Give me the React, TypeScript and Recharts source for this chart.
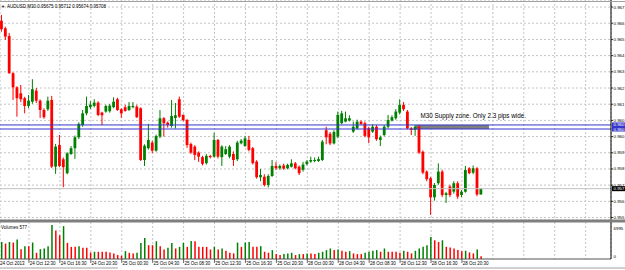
import React from 'react';
import {
  ComposedChart,
  Bar,
  Cell,
  XAxis,
  YAxis,
  CartesianGrid,
  ReferenceLine,
  ReferenceArea,
} from 'recharts';

// AUDUSD M30, 24 Oct 2013 09:00 .. 28 Oct 2013 23:00 (one entry per bar)
const symbol = 'AUDUSD,M30';

const opens = [
  0.96662, 0.96619, 0.96575, 0.96364, 0.96284, 0.9625, 0.96222, 0.96178, 0.96202, 0.96265,
  0.96208, 0.96155, 0.96159, 0.96212, 0.95833, 0.95956, 0.95875, 0.95796, 0.95905, 0.95938,
  0.96, 0.9607, 0.96136, 0.96171, 0.96178, 0.96197, 0.9614, 0.96146, 0.96148, 0.96171,
  0.96216, 0.96159, 0.96171, 0.96155, 0.96171, 0.96174, 0.96165, 0.95871, 0.95938, 0.9597,
  0.95924, 0.96004, 0.96108, 0.96083, 0.96064, 0.9611, 0.96216, 0.96127, 0.96098, 0.95962,
  0.95947, 0.95913, 0.95887, 0.95853, 0.95894, 0.9589, 0.95985, 0.95887, 0.95905, 0.9589,
  0.95905, 0.95875, 0.95966, 0.95951, 0.95985, 0.95938, 0.95862, 0.95773, 0.95776, 0.95729,
  0.9578, 0.95837, 0.95824, 0.9584, 0.95824, 0.95833, 0.95852, 0.95833, 0.95815, 0.95848,
  0.95862, 0.95865, 0.95865, 0.95871, 0.9604, 0.9602, 0.95965, 0.96004, 0.9608, 0.96089,
  0.96095, 0.96032, 0.9605, 0.96089, 0.9608, 0.96051, 0.96032, 0.9606, 0.95985, 0.96013,
  0.9606, 0.96095, 0.96108, 0.9614, 0.96184, 0.96146, 0.96051, 0.96042, 0.9606, 0.95918,
  0.95805, 0.95767, 0.95659, 0.95739, 0.95805, 0.95672, 0.9572, 0.95691, 0.95739, 0.95672,
  0.95691, 0.95824, 0.95799, 0.95824, 0.95675,
];
const highs = [
  0.96695, 0.96628, 0.96593, 0.9637, 0.9629, 0.96297, 0.9623, 0.9624, 0.9633, 0.9628,
  0.96215, 0.96165, 0.96231, 0.96235, 0.95962, 0.96013, 0.95885, 0.95915, 0.9595, 0.9601,
  0.96085, 0.96155, 0.96231, 0.96205, 0.96216, 0.96205, 0.96145, 0.96185, 0.9619, 0.96227,
  0.96225, 0.96165, 0.96185, 0.962, 0.962, 0.96185, 0.9617, 0.9596, 0.96076, 0.9598,
  0.96015, 0.96155, 0.96115, 0.9609, 0.96212, 0.96195, 0.96231, 0.9613, 0.96105, 0.9597,
  0.95955, 0.9592, 0.95895, 0.95905, 0.959, 0.96026, 0.9599, 0.95955, 0.9595, 0.95955,
  0.9592, 0.9598, 0.9599, 0.96008, 0.96008, 0.95945, 0.9587, 0.9582, 0.9579, 0.9579,
  0.95871, 0.9586, 0.95845, 0.9585, 0.9585, 0.95875, 0.9586, 0.9584, 0.9586, 0.9587,
  0.9589, 0.95885, 0.9589, 0.95985, 0.9606, 0.9603, 0.9604, 0.96146, 0.9615, 0.96146,
  0.96125, 0.96089, 0.961, 0.96095, 0.9609, 0.9606, 0.96075, 0.9607, 0.9601, 0.9607,
  0.96127, 0.96125, 0.9616, 0.96216, 0.962, 0.96155, 0.96058, 0.9607, 0.9607, 0.95925,
  0.95812, 0.95775, 0.9574, 0.95852, 0.95815, 0.9569, 0.9573, 0.9575, 0.9575, 0.957,
  0.95837, 0.9583, 0.9584, 0.9583, 0.95712,
];
const lows = [
  0.966, 0.96553, 0.9636, 0.96212, 0.96117, 0.962, 0.96136, 0.96165, 0.9619, 0.96195,
  0.9611, 0.96105, 0.9615, 0.95825, 0.95792, 0.9583, 0.95716, 0.9579, 0.959, 0.95877,
  0.9599, 0.9606, 0.96125, 0.9616, 0.9617, 0.9612, 0.9607, 0.9614, 0.9614, 0.96165,
  0.9615, 0.9611, 0.96145, 0.9615, 0.96165, 0.9611, 0.95865, 0.95837, 0.9593, 0.9591,
  0.95918, 0.95995, 0.96004, 0.96055, 0.96055, 0.9605, 0.9611, 0.9609, 0.9594, 0.95905,
  0.9587, 0.9586, 0.9584, 0.95845, 0.9588, 0.95885, 0.9588, 0.95837, 0.959, 0.9588,
  0.95837, 0.95865, 0.9596, 0.95945, 0.9592, 0.95845, 0.95765, 0.9575, 0.9572, 0.95715,
  0.95775, 0.95815, 0.95815, 0.95815, 0.95818, 0.95828, 0.95818, 0.95785, 0.95805, 0.9584,
  0.95855, 0.95858, 0.9586, 0.95865, 0.9596, 0.95955, 0.9596, 0.95995, 0.96075, 0.96085,
  0.9609, 0.96025, 0.96045, 0.9607, 0.96, 0.95966, 0.96025, 0.9598, 0.9595, 0.96005,
  0.9605, 0.9609, 0.961, 0.9613, 0.9615, 0.96045, 0.96013, 0.96008, 0.95905, 0.9579,
  0.9575, 0.95559, 0.9564, 0.9573, 0.9566, 0.95627, 0.9566, 0.9568, 0.9565, 0.9566,
  0.95685, 0.9579, 0.9579, 0.95665, 0.95674,
];
const closes = [
  0.96614, 0.96572, 0.96364, 0.96284, 0.96222, 0.96216, 0.96178, 0.96208, 0.96273, 0.96208,
  0.96155, 0.96114, 0.96208, 0.95833, 0.95947, 0.95837, 0.9583, 0.95909, 0.95938, 0.96,
  0.96076, 0.96136, 0.96178, 0.96185, 0.96197, 0.96127, 0.96125, 0.96178, 0.9618, 0.96202,
  0.96155, 0.96136, 0.9615, 0.96178, 0.96178, 0.96114, 0.95871, 0.95952, 0.95985, 0.95924,
  0.96007, 0.96108, 0.9608, 0.9607, 0.96121, 0.96125, 0.96117, 0.96098, 0.95956, 0.95913,
  0.959, 0.9589, 0.95849, 0.95894, 0.95887, 0.95985, 0.9589, 0.95947, 0.95932, 0.95947,
  0.95871, 0.9597, 0.95981, 0.95994, 0.95928, 0.95853, 0.95773, 0.95786, 0.95729, 0.9578,
  0.95837, 0.95824, 0.95837, 0.95822, 0.95843, 0.95852, 0.95824, 0.95796, 0.95845, 0.95862,
  0.95871, 0.95871, 0.95876, 0.95975, 0.96, 0.95965, 0.9603, 0.96127, 0.96136, 0.96108,
  0.96108, 0.9606, 0.96089, 0.96076, 0.96008, 0.96, 0.9606, 0.95989, 0.96, 0.9606,
  0.96098, 0.96114, 0.96146, 0.96184, 0.96159, 0.96051, 0.96042, 0.9606, 0.95913, 0.95799,
  0.95762, 0.95659, 0.95729, 0.95805, 0.95672, 0.95682, 0.95672, 0.95739, 0.95663, 0.95691,
  0.95814, 0.95796, 0.95824, 0.95675, 0.95708,
];
const volumes = [
  3500, 3180, 3500, 3380, 4000, 2030, 2640, 2600, 3380, 1280,
  2030, 2160, 2640, 6995, 5880, 4870, 6760, 3310, 2500, 2500,
  2640, 2300, 2300, 1350, 1490, 1490, 1490, 1490, 1350, 1150,
  810, 680, 1620, 1280, 1150, 1280, 3310, 4330, 2840, 2840,
  3650, 2640, 1960, 2300, 3310, 2160, 2500, 3310, 2500, 3720,
  3650, 2500, 2500, 2500, 1960, 2500, 1960, 2160, 1690, 1280,
  1150, 3380, 2500, 3380, 3500, 2500, 2500, 2640, 1490, 1280,
  1830, 1010, 810, 1010, 1150, 1280, 810, 1010, 1010, 1150,
  1150, 1010, 1280, 1490, 1830, 2160, 1830, 1960, 1690, 1490,
  1620, 1150, 1010, 1010, 1280, 1490, 1690, 1830, 1490, 2160,
  1490, 1490, 1490, 1280, 1690, 1490, 1150, 1690, 2160, 2500,
  2840, 4530, 3850, 3500, 3850, 2500, 2370, 2160, 1830, 1620,
  1690, 1350, 1150, 1960, 577,
];

const priceTicks = [
  0.9674, 0.96648, 0.96556, 0.96464, 0.96372, 0.9628, 0.96188,
  0.96096, 0.96004, 0.95912, 0.9582, 0.95728, 0.95636, 0.95544,
];
const volumeTicks = [6995, 0];

const timeTickBars = [0, 7, 15, 23, 31, 39, 47, 55, 63, 71, 79, 87, 95, 103, 111, 119];
const timeTickLabels = [
  '24 Oct 2013', '24 Oct 12:30', '24 Oct 16:30', '24 Oct 20:30',
  '25 Oct 00:30', '25 Oct 04:30', '25 Oct 08:30', '25 Oct 12:30',
  '25 Oct 16:30', '25 Oct 20:30', '28 Oct 00:30', '28 Oct 04:30',
  '28 Oct 08:30', '28 Oct 12:30', '28 Oct 16:30', '28 Oct 20:30',
];
const gridBars = [7, 15, 23, 31, 39, 47, 55, 63, 71, 79, 87, 95, 103, 111, 119, 127, 135, 143, 151];

// supply zone drawn on the chart
const zoneTop = 0.9607;
const zoneBottom = 0.96047;
const zoneFromBar = 107;
const zoneToBar = 126;
const zoneNote = 'M30 Supply zone. Only 2.3 pips wide.';

const RED = '#ff0000';
const GREEN = '#008000';
const BLUE = '#3636cc';
const FONT = '"Liberation Sans", Arial, sans-serif';
const X_DOMAIN: [number, number] = [-0.49, 157.55];
const PRICE_DOMAIN: [number, number] = [0.9553, 0.9678];
const VOLUME_DOMAIN: [number, number] = [0, 7612];

const rows = opens.map((open, i) => ({
  bar: i,
  open,
  high: highs[i],
  low: lows[i],
  close: closes[i],
  volume: volumes[i],
}));
const last = rows[rows.length - 1];

// the price scale is narrow, only the leading digits fit (as in the terminal)
const shortPrice = (v: number) => v.toFixed(5).slice(0, 5);

function Candle(props: any) {
  const { x, y, width, height, payload } = props;
  const { open, close, high, low } = payload;
  const top = Math.min(y, y + height);
  const h = Math.abs(height);
  const k = high > low ? h / (high - low) : 0;
  const cx = x + width / 2;
  const bodyTop = top + (high - Math.max(open, close)) * k;
  const bodyH = Math.max(1, Math.abs(open - close) * k);
  const color = close >= open ? GREEN : RED;
  return (
    <g>
      <line x1={cx} x2={cx} y1={top} y2={top + h} stroke={color} strokeWidth={1} />
      <rect x={cx - 1.4} y={bodyTop} width={2.8} height={bodyH} fill={color} />
    </g>
  );
}

function PriceTick(props: any) {
  const { x, y, payload } = props;
  return (
    <g>
      <line x1={x} x2={x + 2} y1={y} y2={y} stroke="#000" strokeWidth={0.8} />
      <text x={x + 2.5} y={y} fontSize={4.4} fontFamily={FONT} fill="#000" dominantBaseline="central">
        {shortPrice(payload.value)}
      </text>
    </g>
  );
}

function VolumeTick(props: any) {
  const { x, y, payload } = props;
  const dy = payload.value > 0 ? 4 : -3;
  return (
    <text x={x + 2.5} y={y + dy} fontSize={4.4} fontFamily={FONT} fill="#000" dominantBaseline="central">
      {String(payload.value)}
    </text>
  );
}

function TimeTick(props: any) {
  const { x, y, payload } = props;
  const idx = timeTickBars.indexOf(payload.value);
  if (idx < 0) return <g />;
  const first = idx === 0;
  return (
    <g>
      {!first && <line x1={x} x2={x} y1={y} y2={y + 4} stroke="#000" strokeWidth={0.6} />}
      <text
        x={first ? 0 : x + 0.8}
        y={y + 4.5}
        fontSize={4.5}
        fontFamily={FONT}
        fill="#000"
        dominantBaseline="central"
      >
        {timeTickLabels[idx]}
      </text>
    </g>
  );
}

function AxisTag(props: any) {
  const { viewBox, text, fill } = props;
  if (!viewBox) return null;
  const x = viewBox.x + viewBox.width + 1;
  const y = viewBox.y;
  return (
    <g>
      <rect x={x} y={y - 2.5} width={14} height={5} fill={fill} />
      <text x={x + 1.5} y={y} fontSize={4.4} fontFamily={FONT} fill="#fff" dominantBaseline="central">
        {text}
      </text>
    </g>
  );
}

function ZoneNote(props: any) {
  const { viewBox } = props;
  if (!viewBox) return null;
  return (
    <text x={viewBox.x + 5} y={viewBox.y - 9} fontSize={6.3} fontFamily={FONT} fill="#000" dominantBaseline="central">
      {zoneNote}
    </text>
  );
}

function volumeColor(i: number) {
  return i === 0 || volumes[i] > volumes[i - 1] ? GREEN : RED;
}

export default function App() {
  const header = `${symbol}  ${last.open.toFixed(5)} ${last.high.toFixed(5)} ${last.low.toFixed(5)} ${last.close.toFixed(5)}`;
  return (
    <div
      style={{
        position: 'absolute',
        left: 0,
        top: 0,
        width: 625,
        height: 270,
        overflow: 'hidden',
        background: '#fff',
        fontFamily: FONT,
      }}
    >
      <div style={{ position: 'absolute', left: 0, top: 0 }}>
        <ComposedChart width={625} height={220} data={rows} margin={{ top: 0, right: 0, bottom: 0, left: 0 }}>
          <CartesianGrid stroke="#c4c4c4" strokeDasharray="2 2" />
          <XAxis dataKey="bar" type="number" domain={X_DOMAIN} allowDataOverflow ticks={gridBars} interval={0} hide />
          <YAxis
            orientation="right"
            width={14}
            domain={PRICE_DOMAIN}
            allowDataOverflow
            ticks={priceTicks}
            interval={0}
            tickLine={false}
            tickSize={0}
            tickMargin={0}
            axisLine={{ stroke: '#000' }}
            tick={PriceTick}
          />
          <ReferenceArea
            x1={zoneFromBar}
            x2={zoneToBar}
            y1={zoneBottom}
            y2={zoneTop}
            fill="#808080"
            fillOpacity={1}
            stroke="none"
            label={(p: any) => <ZoneNote {...p} />}
          />
          <ReferenceLine
            y={last.close}
            stroke="#c0c0c0"
            label={(p: any) => <AxisTag {...p} text={shortPrice(last.close)} fill="#000" />}
          />
          <ReferenceLine
            y={zoneTop}
            stroke={BLUE}
            label={(p: any) => <AxisTag {...p} text={shortPrice(zoneTop)} fill={BLUE} />}
          />
          <ReferenceLine
            y={zoneBottom}
            stroke={BLUE}
            label={(p: any) => <AxisTag {...p} text={shortPrice(zoneBottom)} fill={BLUE} />}
          />
          <Bar
            dataKey={(d: any) => [d.low, d.high]}
            shape={(p: any) => <Candle {...p} />}
            barSize={3}
            isAnimationActive={false}
          />
        </ComposedChart>
      </div>

      <div style={{ position: 'absolute', left: 0, top: 222 }}>
        <ComposedChart width={625} height={48} data={rows} margin={{ top: 0, right: 0, bottom: 0, left: 0 }}>
          <CartesianGrid xAxisId="grid" stroke="#c4c4c4" strokeDasharray="2 2" horizontal={false} />
          <XAxis xAxisId="grid" dataKey="bar" type="number" domain={X_DOMAIN} allowDataOverflow ticks={gridBars} interval={0} hide />
          <XAxis
            dataKey="bar"
            type="number"
            domain={X_DOMAIN}
            allowDataOverflow
            ticks={timeTickBars}
            interval={0}
            height={11}
            tickLine={false}
            tickSize={0}
            tickMargin={0}
            axisLine={{ stroke: '#555' }}
            tick={TimeTick}
          />
          <YAxis
            orientation="right"
            width={14}
            domain={VOLUME_DOMAIN}
            allowDataOverflow
            ticks={volumeTicks}
            interval={0}
            tickLine={false}
            tickSize={0}
            tickMargin={0}
            axisLine={{ stroke: '#000' }}
            tick={VolumeTick}
          />
          <Bar dataKey="volume" barSize={1.5} isAnimationActive={false}>
            {rows.map((r) => (
              <Cell key={r.bar} fill={volumeColor(r.bar)} />
            ))}
          </Bar>
        </ComposedChart>
      </div>

      <svg width={625} height={270} style={{ position: 'absolute', left: 0, top: 0, pointerEvents: 'none' }}>
        <line x1={0} x2={625} y1={1.5} y2={1.5} stroke="#a0a0a0" />
        <rect x={0} y={219.5} width={625} height={3} fill="#7f7f7f" />
        <line x1={0} x2={118} y1={268} y2={268} stroke="#a0a0a0" />
        <line x1={160} x2={625} y1={268} y2={268} stroke="#a0a0a0" />
        <text x={1} y={6.5} fontSize={4} fontFamily={FONT} fill="#000" dominantBaseline="central">▼</text>
        <text x={7} y={6.5} fontSize={4.5} fontFamily={FONT} fill="#000" dominantBaseline="central">
          {header}
        </text>
        <text x={1} y={227} fontSize={4.5} fontFamily={FONT} fill="#000" dominantBaseline="central">
          {`Volumes ${last.volume}`}
        </text>
      </svg>
    </div>
  );
}
